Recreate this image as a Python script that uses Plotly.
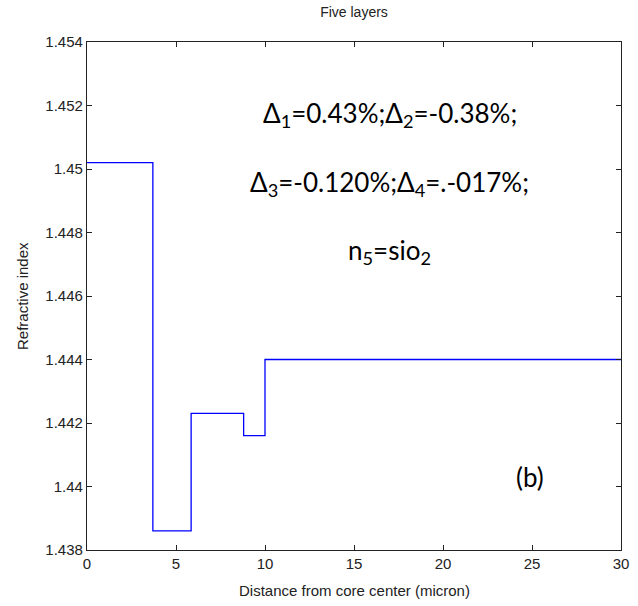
import plotly.graph_objects as go

# Step refractive-index profile (layer boundaries in micron, index per layer)
x_edges = [0, 3.7, 5.85, 8.8, 10.0, 30]
n_index = [1.4502, 1.4386, 1.4423, 1.4416, 1.444, 1.444]

x_ticks = [0, 5, 10, 15, 20, 25, 30]
x_ticklabels = ["0", "5", "10", "15", "20", "25", "30"]
y_ticks = [1.438, 1.44, 1.442, 1.444, 1.446, 1.448, 1.45, 1.452, 1.454]
y_ticklabels = ["1.438", "1.44", "1.442", "1.444", "1.446", "1.448", "1.45", "1.452", "1.454"]

L, R, T, B = 87, 17, 42, 56
W, H = 638, 606
pw, ph = W - L - R, H - T - B

fig = go.Figure()
fig.add_trace(go.Scatter(
    x=x_edges, y=n_index, mode="lines", line_shape="hv",
    line=dict(color="#0000ff", width=1.3), showlegend=False, hoverinfo="skip"))

base_family = "Liberation Sans Narrow, Liberation Sans, Arial, sans-serif"
tick_font = dict(family=base_family, size=15, color="#222")
ax_common = dict(showgrid=False, zeroline=False, showline=True, linecolor="#222",
                 linewidth=1.2, mirror="ticks", ticks="inside", ticklen=5,
                 tickcolor="#222", tickfont=tick_font, automargin=False)

fig.update_xaxes(range=[0, 30], tickvals=x_ticks, ticktext=x_ticklabels, **ax_common)
fig.update_yaxes(range=[1.438, 1.454], tickvals=y_ticks, ticktext=y_ticklabels, **ax_common)

# axis titles
fig.add_annotation(text="Distance from core center (micron)", x=0.5, y=(B - 40) / ph - B / ph,
                   xref="paper", yref="paper", showarrow=False,
                   font=dict(family=base_family, size=15, color="#222"),
                   xanchor="center", yanchor="middle")
fig.add_annotation(text="Refractive index", x=(22 - L) / pw, y=0.5,
                   xref="paper", yref="paper", showarrow=False, textangle=-90,
                   font=dict(family=base_family, size=15, color="#222"),
                   xanchor="center", yanchor="middle")

ann_font = dict(family="Lato, Carlito, Calibri, sans-serif", size=26, color="#000")
annotations = [
    ("Δ<sub>1</sub>=0.43%;Δ<sub>2</sub>=-0.38%;", 0.567, 0.858),
    ("Δ<sub>3</sub>=-0.120%;Δ<sub>4</sub>=.-017%;", 0.567, 0.722),
    ("n<sub>5</sub>=sio<sub>2</sub>", 0.567, 0.587),
    ("(b)", 0.830, 0.144),
]
for txt, ax_, ay_ in annotations:
    fig.add_annotation(text=txt, x=ax_, y=ay_, xref="paper", yref="paper",
                       showarrow=False, font=ann_font, xanchor="center", yanchor="middle")

fig.update_layout(
    width=W, height=H,
    margin=dict(l=L, r=R, t=T, b=B),
    paper_bgcolor="white", plot_bgcolor="white",
    title=dict(text="Five layers", x=(L + W - R) / 2 / W, xanchor="center",
               y=1 - 12 / H, yanchor="middle",
               font=dict(family=base_family, size=14, color="#222")),
)

fig.write_html("out.html")
